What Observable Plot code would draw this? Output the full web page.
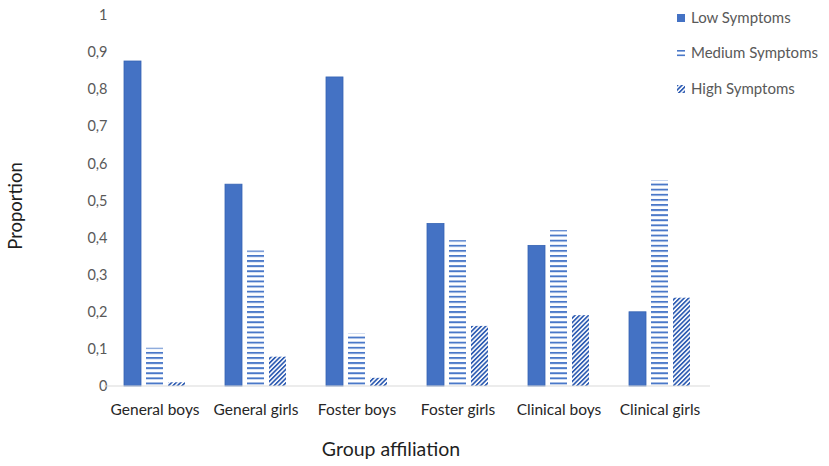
<!DOCTYPE html>
<html>
<head>
<meta charset="utf-8">
<script src="https://cdn.jsdelivr.net/npm/d3@7"></script>
<script src="https://cdn.jsdelivr.net/npm/@observablehq/plot@0.6"></script>
<style>
  html, body { margin: 0; padding: 0; background: #fff; }
  #chart { position: relative; width: 829px; height: 466px; }
  #chart svg { font-family: Lato, "Open Sans", sans-serif; }
</style>
</head>
<body>
<div id="chart"></div>
<script>
const groups = ["General boys", "General girls", "Foster boys", "Foster girls", "Clinical boys", "Clinical girls"];
const symptoms = ["Low Symptoms", "Medium Symptoms", "High Symptoms"];
const lowValues = [0.876, 0.544, 0.833, 0.438, 0.379, 0.200];
const mediumValues = [0.103, 0.365, 0.142, 0.393, 0.420, 0.555];
const highValues = [0.010, 0.079, 0.022, 0.162, 0.191, 0.238];
const yTicks = [0, 0.1, 0.2, 0.3, 0.4, 0.5, 0.6, 0.7, 0.8, 0.9, 1];
const xTitle = "Group affiliation";
const yTitle = "Proportion";

const series = [lowValues, mediumValues, highValues];
const rows = groups.flatMap((g, i) => symptoms.map((s, j) => ({group: g, symptom: s, value: series[j][i]})));
const bySym = s => rows.filter(d => d.symptom === s);

const fmt = d => d === 0 ? "0" : d === 1 ? "1" : d.toFixed(1).replace(".", ",");

const plot = Plot.plot({
  width: 829,
  height: 466,
  marginLeft: 104,
  marginRight: 119,
  marginTop: 15,
  marginBottom: 80,
  style: {fontFamily: "Lato, 'Open Sans', sans-serif", fontSize: "15px", background: "#fff"},
  fx: {domain: groups, paddingInner: 0.38, paddingOuter: 0.19, axis: null},
  x: {domain: symptoms, paddingInner: 0.22, paddingOuter: 0, axis: null},
  y: {domain: [0, 1], axis: null},
  marks: [
    Plot.axisFx({anchor: "bottom", tickSize: 0, tickPadding: 17, fontSize: 15.5, fill: "#262626", label: null}),
    Plot.axisY(yTicks, {anchor: "left", tickFormat: fmt, tickSize: 0, tickPadding: 16, fontSize: 14.5, fill: "#595959", label: null}),
    Plot.barY(bySym(symptoms[0]), {fx: "group", x: "symptom", y: "value", fill: "#4472C4", stroke: "#3563b3", strokeWidth: 0.8}),
    Plot.barY(bySym(symptoms[1]), {fx: "group", x: "symptom", y: "value", fill: "url(#pMed)"}),
    Plot.barY(bySym(symptoms[2]), {fx: "group", x: "symptom", y: "value", fill: "url(#pHigh)"})
  ]
});

document.getElementById("chart").appendChild(plot);

const svg = d3.select(plot);
const defs = svg.insert("defs", ":first-child");
const pMed = defs.append("pattern").attr("id", "pMed").attr("patternUnits", "userSpaceOnUse")
  .attr("width", 6).attr("height", 5.1);
pMed.append("rect").attr("width", 6).attr("height", 5.1).attr("fill", "#fff");
pMed.append("rect").attr("width", 6).attr("height", 1.9).attr("fill", "#4a78c8");
const pHigh = defs.append("pattern").attr("id", "pHigh").attr("patternUnits", "userSpaceOnUse")
  .attr("width", 3.2).attr("height", 3.2).attr("patternTransform", "rotate(45)");
pHigh.append("rect").attr("width", 3.2).attr("height", 3.2).attr("fill", "#fff");
pHigh.append("rect").attr("width", 1.7).attr("height", 3.2).attr("fill", "#2f5db3");

// baseline across the whole frame, via the y scale
const ys = plot.scale("y");
const y0 = ys.apply(0);
svg.append("line")
  .attr("x1", 104).attr("x2", 829 - 119)
  .attr("y1", y0).attr("y2", y0)
  .attr("stroke", "#d9d9d9").attr("stroke-width", 1.2);

// axis titles
svg.append("text")
  .attr("x", 391).attr("y", 456)
  .attr("text-anchor", "middle").attr("font-size", 19.5).attr("fill", "#1f1f1f")
  .text(xTitle);
svg.append("text")
  .attr("transform", "translate(22,206) rotate(-90)")
  .attr("text-anchor", "middle").attr("font-size", 18.5).attr("fill", "#1f1f1f")
  .text(yTitle);

// legend
const fills = ["#4472C4", "url(#pMed)", "url(#pHigh)"];
const legend = svg.append("g").attr("font-size", 15).attr("fill", "#595959").attr("text-anchor", "start");
const legendY = [18, 53, 89];
symptoms.forEach((s, i) => {
  const g = legend.append("g").attr("transform", `translate(677,${legendY[i]})`);
  if (i === 1) {
    g.append("rect").attr("x", 0).attr("y", -3).attr("width", 8).attr("height", 1.6).attr("fill", "#4a78c8");
    g.append("rect").attr("x", 0).attr("y", 1.5).attr("width", 8).attr("height", 1.6).attr("fill", "#4a78c8");
  } else {
    g.append("rect").attr("x", 0).attr("y", -4).attr("width", 8).attr("height", 8).attr("fill", fills[i]);
  }
  g.append("text").attr("x", 14).attr("y", 0).attr("dy", "0.35em").attr("text-anchor", "start").text(s);
});
</script>
</body>
</html>
